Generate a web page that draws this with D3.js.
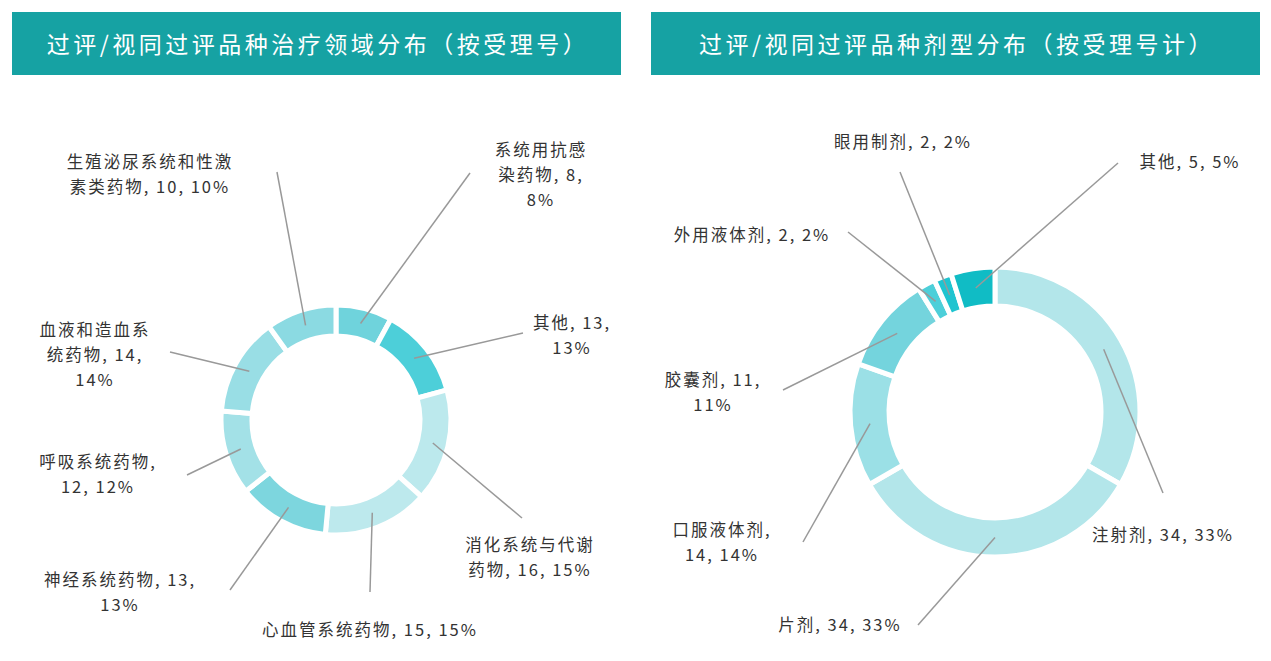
<!DOCTYPE html>
<html><head><meta charset="utf-8">
<script src="https://d3js.org/d3.v7.min.js"></script>
<style>
  body{margin:0;background:#fff;font-family:"Noto Sans CJK SC",sans-serif;}
  .lbl{font-size:16.5px;fill:#333;letter-spacing:2px;}
</style></head>
<body>
<svg id="chart" width="1271" height="661"></svg>
<script>
// left chart: therapeutic areas
var leftTitle = "过评/视同过评品种治疗领域分布（按受理号）";
var leftNames = ["系统用抗感染药物","其他","消化系统与代谢药物","心血管系统药物","神经系统药物","呼吸系统药物","血液和造血系统药物","生殖泌尿系统和性激素类药物"];
var leftValues = [8,13,16,15,13,12,14,10];
var leftPct = ["8%","13%","15%","15%","13%","12%","14%","10%"];
var leftLabels = [["系统用抗感","染药物, 8,","8%"],["其他, 13,","13%"],["消化系统与代谢","药物, 16, 15%"],["心血管系统药物, 15, 15%"],["神经系统药物, 13,","13%"],["呼吸系统药物,","12, 12%"],["血液和造血系","统药物, 14,","14%"],["生殖泌尿系统和性激","素类药物, 10, 10%"]];
var leftColors = ["#6fd3dc","#4dcfd9","#bce9ed","#bde9ed","#7dd6de","#a3e1e7","#99dee5","#8bdae2"];

// right chart: dosage forms
var rightTitle = "过评/视同过评品种剂型分布（按受理号计）";
var rightNames = ["注射剂","片剂","口服液体剂","胶囊剂","外用液体剂","眼用制剂","其他"];
var rightValues = [34,34,14,11,2,2,5];
var rightPct = ["33%","33%","14%","11%","2%","2%","5%"];
var rightLabels = [["注射剂, 34, 33%"],["片剂, 34, 33%"],["口服液体剂,","14, 14%"],["胶囊剂, 11,","11%"],["外用液体剂, 2, 2%"],["眼用制剂, 2, 2%"],["其他, 5, 5%"]];
var rightColors = ["#b3e6ea","#b3e6ea","#9be0e6","#74d4dd","#4dcfd9","#1fc4d0","#10bcc5"];

// layout: label text centre, first baseline, leader line end
var leftLayout = [
  {tx:541,ty:156,lx:470,ly:173},{tx:572,ty:329,lx:523,ly:333},{tx:530,ty:551,lx:522,ly:518},
  {tx:370,ty:636,lx:370,ly:592},{tx:120,ty:586,lx:230,ly:590},{tx:98,ty:468,lx:187,ly:475},
  {tx:95,ty:336,lx:170,ly:352},{tx:150,ty:168,lx:277,ly:172}];
var rightLayout = [
  {tx:1163,ty:541,lx:1163,ly:493},{tx:840,ty:631,lx:918,ly:625},{tx:722,ty:536,lx:803,ly:542},
  {tx:713,ty:386,lx:783,ly:390},{tx:752,ty:241,lx:848,ly:232},{tx:903,ty:148,lx:900,ly:172},
  {tx:1190,ty:168,lx:1118,ly:163}];

var svg = d3.select("#chart");

function banner(x, title){
  svg.append("rect").attr("x",x).attr("y",12).attr("width",609).attr("height",63).attr("fill","#16a2a3");
  svg.append("text").attr("x",x+306).attr("y",53).attr("text-anchor","middle")
    .attr("fill","#fff").attr("font-size","23px").attr("letter-spacing","3.5px").text(title);
}

function donut(cx, cy, rOut, rIn, values, colors, labels, layout){
  var pie = d3.pie().sort(null).value(d => d);
  var arc = d3.arc().innerRadius(rIn).outerRadius(rOut);
  var mid = d3.arc().innerRadius((rIn+rOut)/2).outerRadius((rIn+rOut)/2);
  var g = svg.append("g").attr("transform","translate("+cx+","+cy+")");
  var arcs = pie(values);
  g.selectAll("path").data(arcs).enter().append("path")
    .attr("d",arc).attr("fill",(d,i)=>colors[i]).attr("stroke","#fff").attr("stroke-width",5);
  arcs.forEach(function(a,i){
    var c = mid.centroid(a), L = layout[i];
    svg.append("line").attr("x1",cx+c[0]).attr("y1",cy+c[1]).attr("x2",L.lx).attr("y2",L.ly)
      .attr("stroke","#999").attr("stroke-width",1.5);
    var t = svg.append("text").attr("class","lbl").attr("text-anchor","middle");
    labels[i].forEach(function(s,j){
      t.append("tspan").attr("x",L.tx).attr("y",L.ty+j*25).text(s);
    });
  });
}

banner(12, leftTitle);
banner(651, rightTitle);
donut(336, 420, 115, 84, leftValues, leftColors, leftLabels, leftLayout);
donut(995, 412, 145, 106, rightValues, rightColors, rightLabels, rightLayout);
</script>
</body></html>
